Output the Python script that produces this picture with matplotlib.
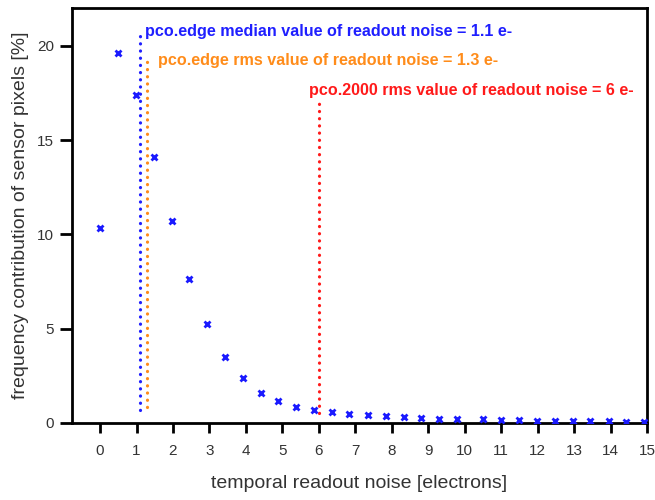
import matplotlib
matplotlib.use("Agg")
import matplotlib.pyplot as plt

plt.rcParams['font.family'] = ['Liberation Sans', 'DejaVu Sans']

noise_e = [0.0, 0.50, 0.99, 1.49, 1.97, 2.45, 2.93, 3.42, 3.91, 4.41, 4.89, 5.37, 5.86,
           6.35, 6.84, 7.34, 7.83, 8.33, 8.81, 9.30, 9.78, 10.51, 10.99, 11.49, 11.98,
           12.48, 12.96, 13.45, 13.95, 14.43, 14.93]
freq_pct = [10.33, 19.61, 17.40, 14.09, 10.72, 7.66, 5.27, 3.50, 2.37, 1.61, 1.17, 0.87, 0.71,
            0.57, 0.48, 0.41, 0.36, 0.30, 0.27, 0.23, 0.21, 0.20, 0.18, 0.14, 0.13,
            0.11, 0.10, 0.10, 0.08, 0.07, 0.07]

ref_x = [1.1, 1.3, 6.0]
ref_bottom = [0.69, 0.87, 0.53]
ref_top = [20.85, 19.5, 17.1]
ref_colors = ['#1f1fff', '#ff8c1a', '#ff1a1a']
ref_labels = ['pco.edge median value of readout noise = 1.1 e-',
              'pco.edge rms value of readout noise = 1.3 e-',
              'pco.2000 rms value of readout noise = 6 e-']
label_pos = [(1.23, 20.75), (1.58, 19.2), (5.72, 17.6)]

xticks = list(range(0, 16))
yticks = [0, 5, 10, 15, 20]

fig = plt.figure(figsize=(6.55, 5.0), dpi=100)
ax = fig.add_axes([0.1099, 0.154, 0.8779, 0.830])

for x, b, t, c in zip(ref_x, ref_bottom, ref_top, ref_colors):
    ax.plot([x, x], [b, t], color=c, lw=2.3, linestyle=(0, (0.05, 2.2)),
            dash_capstyle='round', zorder=2)

ax.plot(noise_e, freq_pct, linestyle='none', marker='x', ms=5, mew=2.0,
        color='#1a1aff', zorder=3)

for (tx, ty), lab, c in zip(label_pos, ref_labels, ref_colors):
    ax.text(tx, ty, lab, color=c, fontsize=11.6, fontweight='bold',
            ha='left', va='center')

ax.set_xlim(-0.77, 15)
ax.set_ylim(0, 22)
ax.set_xticks(xticks)
ax.set_yticks(yticks)
ax.tick_params(axis='x', direction='out', length=7, width=2, pad=8,
               labelsize=11, labelcolor='#333333')
ax.tick_params(axis='y', direction='out', length=9, width=2, pad=4,
               labelsize=11, labelcolor='#333333')
for s in ax.spines.values():
    s.set_linewidth(2.0)
    s.set_color('black')

ax.set_xlabel('temporal readout noise [electrons]', fontsize=14, color='#333333', labelpad=12)
ax.set_ylabel('frequency contribution of sensor pixels [%]', fontsize=14, color='#333333', labelpad=6)

fig.savefig('out.png', dpi=100)
